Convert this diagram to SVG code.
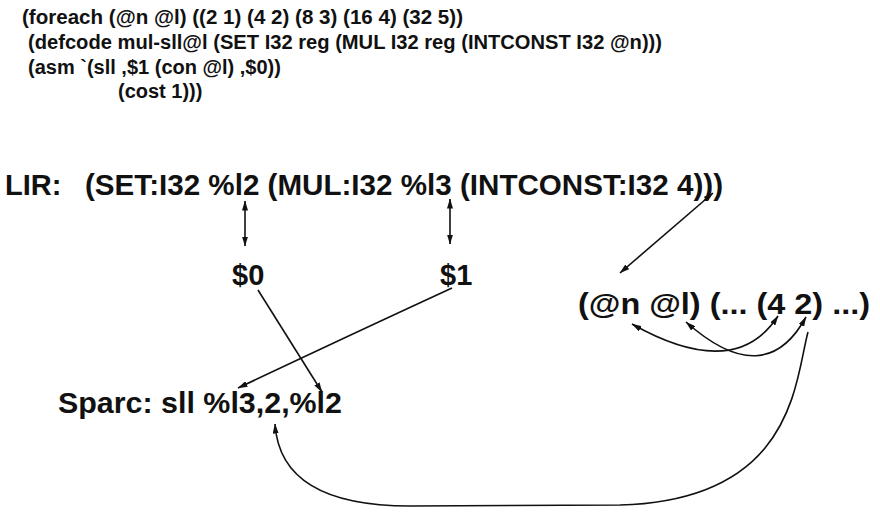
<svg xmlns="http://www.w3.org/2000/svg" width="880" height="524" viewBox="0 0 880 524">
<style>
.t{font-family:"Liberation Sans",Arial,sans-serif;font-weight:bold;fill:#111}
.s{font-size:20px}
.b{font-size:29px}
.c{fill:none;stroke:#111;stroke-width:1.6}
</style>
<defs>
<marker id="ah" viewBox="0 0 10 6" refX="9.5" refY="3" markerWidth="10" markerHeight="6" markerUnits="userSpaceOnUse" orient="auto-start-reverse">
<path d="M0,0 L10,3 L0,6 Z" fill="#111"/>
</marker>
</defs>
<rect width="880" height="524" fill="#fff"/>
<g id="code">
<text class="t s" x="22" y="24" textLength="441" lengthAdjust="spacingAndGlyphs">(foreach (@n @l) ((2 1) (4 2) (8 3) (16 4) (32 5))</text>
<text class="t s" x="28" y="49" textLength="634" lengthAdjust="spacingAndGlyphs">(defcode mul-sll@l (SET I32 reg (MUL I32 reg (INTCONST I32 @n)))</text>
<text class="t s" x="28" y="74">(asm `(sll ,$1 (con @l) ,$0))</text>
<text class="t s" x="118" y="98">(cost 1)))</text>
</g>
<g id="lir">
<text class="t b" x="5" y="195">LIR:</text>
<text class="t b" x="85" y="195" textLength="638" lengthAdjust="spacingAndGlyphs">(SET:I32 %l2 (MUL:I32 %l3 (INTCONST:I32 4)))</text>
</g>
<g id="d0"><text class="t b" x="232" y="285">$0</text></g>
<g id="d1"><text class="t b" x="440" y="285">$1</text></g>
<g id="pattern"><text class="t b" x="578" y="314" textLength="292" lengthAdjust="spacingAndGlyphs">(@n @l) (... (4 2) ...)</text></g>
<g id="sparc"><text class="t b" x="58" y="413" textLength="284" lengthAdjust="spacingAndGlyphs">Sparc: sll %l3,2,%l2</text></g>
<g id="connectors">
<line class="c" x1="245" y1="201" x2="245" y2="246" marker-start="url(#ah)" marker-end="url(#ah)"/>
<line class="c" x1="450" y1="199" x2="450" y2="244" marker-start="url(#ah)" marker-end="url(#ah)"/>
<line class="c" x1="713" y1="193" x2="620" y2="273" marker-start="url(#ah)" marker-end="url(#ah)"/>
<line class="c" x1="258" y1="290" x2="322" y2="392" marker-end="url(#ah)"/>
<path class="c" d="M452,288 Q350,335 238,388" marker-end="url(#ah)"/>
<path class="c" d="M632,324 Q735,382 778,316" marker-start="url(#ah)" marker-end="url(#ah)"/>
<path class="c" d="M686,322 Q765,392 806,317" marker-start="url(#ah)" marker-end="url(#ah)"/>
<path class="c" d="M808,332 C795,380 795,500 620,505 L410,506 C310,506 278,470 275,424" marker-end="url(#ah)"/>
</g>
</svg>
